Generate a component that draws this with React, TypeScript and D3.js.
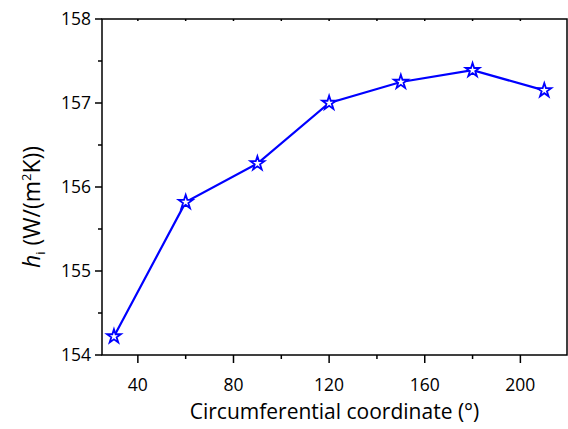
import React, { useEffect, useRef } from 'react'
import * as d3 from 'd3'

const angles = [30, 60, 90, 120, 150, 180, 210]
const hValues = [154.22, 155.82, 156.28, 157.0, 157.25, 157.39, 157.15]
const xTicks = [40, 80, 120, 160, 200]
const xMinorTicks = [60, 100, 140, 180]
const yTicks = [154, 155, 156, 157, 158]
const yMinorTicks = [154.5, 155.5, 156.5, 157.5]

const width = 568
const height = 429
const left = 102
const right = 567
const top = 19
const bottom = 355
const font = '"Open Sans", Lato, sans-serif'

const App = () => {
    const ref = useRef<SVGSVGElement>(null)

    useEffect(() => {
        const svg = d3.select(ref.current)
        svg.selectAll('*').remove()

        const x = d3.scaleLinear().domain([25, 219.5]).range([left, right])
        const y = d3.scaleLinear().domain([154, 158]).range([bottom, top])

        // frame
        svg.append('rect')
            .attr('x', left).attr('y', top)
            .attr('width', right - left).attr('height', bottom - top)
            .attr('fill', 'none').attr('stroke', '#000').attr('stroke-width', 1.5)

        // bottom axis
        svg.selectAll('.xmaj').data(xTicks).enter().append('line')
            .attr('x1', d => x(d)).attr('x2', d => x(d))
            .attr('y1', bottom).attr('y2', bottom + 8)
            .attr('stroke', '#000').attr('stroke-width', 1.5)
        svg.selectAll('.xmin').data(xMinorTicks).enter().append('line')
            .attr('x1', d => x(d)).attr('x2', d => x(d))
            .attr('y1', bottom).attr('y2', bottom + 4)
            .attr('stroke', '#000').attr('stroke-width', 1.5)
        svg.selectAll('.xtop').data([...xTicks, ...xMinorTicks]).enter().append('line')
            .attr('x1', d => x(d)).attr('x2', d => x(d))
            .attr('y1', top).attr('y2', top + 2)
            .attr('stroke', '#000').attr('stroke-width', 1.5)
        svg.selectAll('.xlab').data(xTicks).enter().append('text')
            .attr('x', d => x(d)).attr('y', bottom + 36)
            .attr('text-anchor', 'middle')
            .style('font-family', font).style('font-size', '17.5px')
            .text(d => d)

        // left axis
        svg.selectAll('.ymaj').data(yTicks).enter().append('line')
            .attr('x1', left - 7).attr('x2', left)
            .attr('y1', d => y(d)).attr('y2', d => y(d))
            .attr('stroke', '#000').attr('stroke-width', 1.5)
        svg.selectAll('.ymin').data(yMinorTicks).enter().append('line')
            .attr('x1', left - 4).attr('x2', left)
            .attr('y1', d => y(d)).attr('y2', d => y(d))
            .attr('stroke', '#000').attr('stroke-width', 1.5)
        svg.selectAll('.ylab').data(yTicks).enter().append('text')
            .attr('x', left - 11).attr('y', d => y(d) + 6)
            .attr('text-anchor', 'end')
            .style('font-family', font).style('font-size', '17.5px')
            .text(d => d)

        // axis titles
        svg.append('text')
            .attr('x', (left + right) / 2).attr('y', 419)
            .attr('text-anchor', 'middle')
            .style('font-family', font).style('font-size', '21px')
            .text('Circumferential coordinate (°)')

        const yt = svg.append('text')
            .attr('transform', 'translate(40,207) rotate(-90)')
            .attr('text-anchor', 'middle')
            .style('font-family', font).style('font-size', '23px')
        yt.append('tspan').style('font-style', 'italic').text('h')
        yt.append('tspan').attr('font-size', '13px').attr('dy', 5).text('i')
        yt.append('tspan').attr('dy', -5).text(' (W/(m')
        yt.append('tspan').attr('font-size', '13px').attr('dy', -9).text('2')
        yt.append('tspan').attr('dy', 9).text('K))')

        // series
        const pts = angles.map((a, i) => [a, hValues[i]] as [number, number])
        const line = d3.line<[number, number]>().x(d => x(d[0])).y(d => y(d[1]))
        svg.append('path').datum(pts)
            .attr('d', line)
            .attr('fill', 'none').attr('stroke', '#0000ff').attr('stroke-width', 2.2)

        svg.selectAll('.pt').data(pts).enter().append('path')
            .attr('d', d3.symbol().type(d3.symbolStar).size(60)())
            .attr('transform', d => `translate(${x(d[0])},${y(d[1])})`)
            .attr('fill', '#fff').attr('stroke', '#0000ff').attr('stroke-width', 1.8)
    }, [])

    return (
        <svg ref={ref} width={width} height={height}
            style={{ position: 'absolute', left: 0, top: 0, background: '#fff' }} />
    )
}

export default App
